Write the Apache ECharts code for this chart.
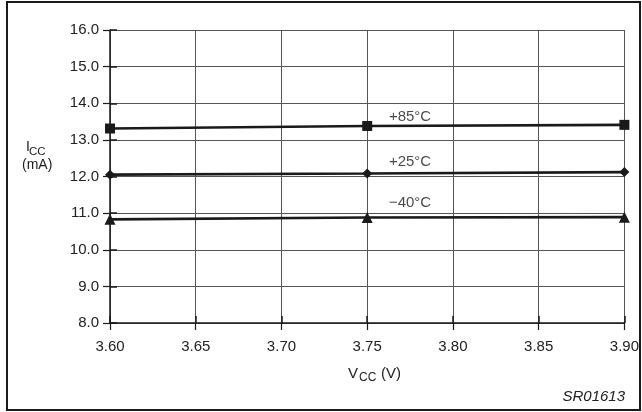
<!DOCTYPE html>
<html>
<head>
<meta charset="utf-8">
<script src="https://cdn.jsdelivr.net/npm/echarts@6/dist/echarts.min.js"></script>
<style>html,body{margin:0;padding:0;background:#fff}#c{width:642px;height:412px}</style>
</head>
<body>
<div id="c"></div>
<script>
var vcc = [3.60, 3.75, 3.90];
var icc85 = [13.31, 13.38, 13.41];
var icc25 = [12.05, 12.08, 12.12];
var iccM40 = [10.83, 10.88, 10.89];
var seriesNames = ['+85°C', '+25°C', '\u221240°C'];
var labelX = 3.775;
var labelY = [13.64, 12.41, 11.27];
var xTicks = { min: 3.60, max: 3.90, step: 0.05 };
var yTicks = { min: 8, max: 16, step: 1 };

var FONT = 'Liberation Sans';
var chart = echarts.init(document.getElementById('c'), null, { renderer: 'canvas' });

function pairs(ys) { return vcc.map(function (x, i) { return [x, ys[i]]; }); }

var lineStyle = { color: '#1a1a1a', width: 2.6 };
function mkSeries(name, ys, symbol, size) {
  return {
    name: name, type: 'line', data: pairs(ys),
    symbol: symbol, symbolSize: size, showSymbol: true,
    lineStyle: lineStyle, itemStyle: { color: '#1a1a1a' },
    animation: false, z: 5
  };
}

var option = {
  animation: false,
  grid: { left: 110, right: 15, top: 30, bottom: 89, containLabel: false },
  xAxis: [{
    type: 'value', min: xTicks.min, max: xTicks.max, interval: xTicks.step,
    axisLine: { show: true, onZero: false, lineStyle: { color: '#1a1a1a', width: 1.5 } },
    axisTick: { show: true, inside: false, length: 7, lineStyle: { color: '#1a1a1a', width: 1.2 } },
    axisLabel: { fontFamily: FONT, fontSize: 15, color: '#222', margin: 16,
      formatter: function (v) { return v.toFixed(2); } },
    splitLine: { show: true, lineStyle: { color: '#555', width: 1 } }
  }, {
    type: 'value', min: xTicks.min, max: xTicks.max, interval: xTicks.step, position: 'bottom',
    axisLine: { show: false },
    axisTick: { show: true, inside: true, length: 7, lineStyle: { color: '#1a1a1a', width: 1.5 } },
    axisLabel: { show: false }, splitLine: { show: false }
  }],
  yAxis: [{
    type: 'value', min: yTicks.min, max: yTicks.max, interval: yTicks.step,
    axisLine: { show: true, onZero: false, lineStyle: { color: '#1a1a1a', width: 1.5 } },
    axisTick: { show: true, inside: false, length: 7, lineStyle: { color: '#1a1a1a', width: 1.2 } },
    axisLabel: { fontFamily: FONT, fontSize: 15, color: '#222', margin: 11,
      formatter: function (v) { return v.toFixed(1); } },
    splitLine: { show: true, lineStyle: { color: '#555', width: 1 } }
  }, {
    type: 'value', min: yTicks.min, max: yTicks.max, interval: yTicks.step, position: 'left',
    axisLine: { show: false },
    axisTick: { show: true, inside: true, length: 7, lineStyle: { color: '#1a1a1a', width: 1.5 } },
    axisLabel: { show: false }, splitLine: { show: false }
  }],
  series: [
    mkSeries(seriesNames[0], icc85, 'rect', 10),
    mkSeries(seriesNames[1], icc25, 'diamond', 10),
    mkSeries(seriesNames[2], iccM40, 'triangle', 11),
    {
      type: 'scatter', symbolSize: 0, silent: true, animation: false,
      data: labelY.map(function (y, i) { return { value: [labelX, y], name: seriesNames[i] }; }),
      label: { show: true, position: 'inside', align: 'center', verticalAlign: 'middle',
        formatter: '{b}', fontFamily: FONT, fontSize: 15, color: '#1a1a1a' }
    }
  ],
  graphic: [
    { type: 'rect', shape: { x: 7, y: 2, width: 633, height: 408 },
      style: { fill: 'none', stroke: '#1a1a1a', lineWidth: 2 }, z: 100 },
    { type: 'text', left: 26, top: 140, style: { text: 'I', fontFamily: FONT, fontSize: 14, fill: '#222' } },
    { type: 'text', left: 29, top: 146, style: { text: 'CC', fontFamily: FONT, fontSize: 11.5, fill: '#222' } },
    { type: 'text', left: 22, top: 158, style: { text: '(mA)', fontFamily: FONT, fontSize: 14, fill: '#222' } },
    { type: 'text', left: 348, top: 366, style: { text: 'V', fontFamily: FONT, fontSize: 15, fill: '#222' } },
    { type: 'text', left: 359, top: 372, style: { text: 'CC', fontFamily: FONT, fontSize: 12, fill: '#222' } },
    { type: 'text', left: 381, top: 366, style: { text: '(V)', fontFamily: FONT, fontSize: 15, fill: '#222' } },
    { type: 'text', right: 17, top: 389, style: { text: 'SR01613', fontFamily: FONT, fontSize: 15, fontStyle: 'italic', fill: '#222' } }
  ]
};
chart.setOption(option);
</script>
</body>
</html>
